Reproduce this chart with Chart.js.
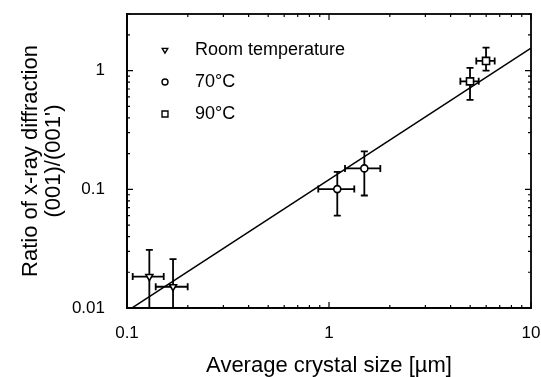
<!DOCTYPE html>
<html>
<head>
<meta charset="utf-8">
<script src="https://cdn.jsdelivr.net/npm/chart.js@4/dist/chart.umd.min.js"></script>
<style>
html,body{margin:0;padding:0;background:#fff;}
#wrap{width:541px;height:377px;}
</style>
</head>
<body>
<div id="wrap"><canvas id="c" width="541" height="377"></canvas></div>
<script>
// ---- data ----
const seriesLabels = ['Room temperature', '70°C', '90°C'];

const roomSize   = [0.129, 0.169];
const roomRatio  = [0.0184, 0.0151];
const roomXLow   = [0.1067, 0.1387];
const roomXHigh  = [0.152, 0.1997];
const roomYLow   = [0.008, 0.008];
const roomYHigh  = [0.0309, 0.0258];

const t70Size    = [1.099, 1.496];
const t70Ratio   = [0.1004, 0.150];
const t70XLow    = [0.885, 1.20];
const t70XHigh   = [1.334, 1.795];
const t70YLow    = [0.0601, 0.0887];
const t70YHigh   = [0.1405, 0.2085];

const t90Size    = [4.99, 5.99];
const t90Ratio   = [0.812, 1.207];
const t90XLow    = [4.47, 5.36];
const t90XHigh   = [5.51, 6.61];
const t90YLow    = [0.566, 1.0];
const t90YHigh   = [1.054, 1.564];

const fitX = [0.1, 10];
const fitY = [0.0094, 1.55];

const xTicks = [0.1, 1, 10];
const yTicks = [0.01, 0.1, 1];
const xTitle = 'Average crystal size [µm]';
const yTitle = ['Ratio of x-ray diffraction', "(001)/(001')"];

const FONT = "'Liberation Sans', Arial, Helvetica, sans-serif";

function pts(xs, ys) { return xs.map((x, i) => ({x: x, y: ys[i]})); }

const datasets = [
  {label: seriesLabels[0], data: pts(roomSize, roomRatio), pointStyle: 'triangle', rotation: 180, pointRadius: 4,
   err: {xl: roomXLow, xh: roomXHigh, yl: roomYLow, yh: roomYHigh}, legendRadius: 3.2},
  {label: seriesLabels[1], data: pts(t70Size, t70Ratio), pointStyle: 'circle', pointRadius: 3.5,
   err: {xl: t70XLow, xh: t70XHigh, yl: t70YLow, yh: t70YHigh}, legendRadius: 3},
  {label: seriesLabels[2], data: pts(t90Size, t90Ratio), pointStyle: 'rect', pointRadius: 5,
   err: {xl: t90XLow, xh: t90XHigh, yl: t90YLow, yh: t90YHigh}, legendRadius: 4.2},
].map(d => Object.assign({
  type: 'scatter', showLine: false, backgroundColor: '#fff', borderColor: '#000',
  pointBorderWidth: 1.6, pointBackgroundColor: '#fff', pointBorderColor: '#000', pointHoverRadius: 4
}, d));

datasets.push({
  type: 'line', label: 'fit', data: pts(fitX, fitY), borderColor: '#000', borderWidth: 1.5,
  pointRadius: 0, fill: false, tension: 0, isFit: true
});

const errorBars = {
  id: 'errorBars',
  beforeDatasetsDraw(chart) {
    const {ctx, chartArea: a, scales: {x, y}} = chart;
    ctx.save();
    ctx.beginPath();
    ctx.rect(a.left, a.top, a.right - a.left, a.bottom - a.top);
    ctx.clip();
    ctx.strokeStyle = '#000';
    ctx.lineWidth = 1.8;
    const cap = 3.5;
    chart.data.datasets.forEach(ds => {
      if (!ds.err) return;
      ds.data.forEach((p, i) => {
        const px = x.getPixelForValue(p.x), py = y.getPixelForValue(p.y);
        const xl = x.getPixelForValue(ds.err.xl[i]), xh = x.getPixelForValue(ds.err.xh[i]);
        const yl = y.getPixelForValue(ds.err.yl[i]), yh = y.getPixelForValue(ds.err.yh[i]);
        ctx.beginPath();
        ctx.moveTo(xl, py); ctx.lineTo(xh, py);
        ctx.moveTo(xl, py - cap); ctx.lineTo(xl, py + cap);
        ctx.moveTo(xh, py - cap); ctx.lineTo(xh, py + cap);
        ctx.moveTo(px, yl); ctx.lineTo(px, yh);
        ctx.moveTo(px - cap, yl); ctx.lineTo(px + cap, yl);
        ctx.moveTo(px - cap, yh); ctx.lineTo(px + cap, yh);
        ctx.stroke();
      });
    });
    ctx.restore();
  }
};

const frameAndTicks = {
  id: 'frameAndTicks',
  afterDraw(chart) {
    const {ctx, chartArea: a, scales: {x, y}} = chart;
    ctx.save();
    ctx.strokeStyle = '#000';
    ctx.lineWidth = 1.2;
    const minor = [2, 3, 4, 5, 6, 7, 8, 9];
    ctx.beginPath();
    [0.1, 1].forEach(dec => minor.forEach(m => {
      const px = x.getPixelForValue(dec * m);
      ctx.moveTo(px, a.bottom); ctx.lineTo(px, a.bottom - 3);
      ctx.moveTo(px, a.top); ctx.lineTo(px, a.top + 3);
    }));
    xTicks.forEach(v => {
      const px = x.getPixelForValue(v);
      ctx.moveTo(px, a.bottom); ctx.lineTo(px, a.bottom - 6);
      ctx.moveTo(px, a.top); ctx.lineTo(px, a.top + 6);
    });
    [0.01, 0.1, 1].forEach(dec => minor.forEach(m => {
      const v = dec * m;
      if (v > y.max) return;
      const py = y.getPixelForValue(v);
      ctx.moveTo(a.left, py); ctx.lineTo(a.left + 3, py);
      ctx.moveTo(a.right, py); ctx.lineTo(a.right - 3, py);
    }));
    yTicks.forEach(v => {
      const py = y.getPixelForValue(v);
      ctx.moveTo(a.left, py); ctx.lineTo(a.left + 6, py);
      ctx.moveTo(a.right, py); ctx.lineTo(a.right - 6, py);
    });
    ctx.stroke();
    ctx.lineWidth = 1.8;
    ctx.strokeRect(a.left, a.top, a.right - a.left, a.bottom - a.top);

    // legend inside plot
    const lx = 165, ly0 = 50, dy = 32, tx = 195;
    ctx.font = '18px ' + FONT;
    ctx.fillStyle = '#000';
    ctx.textBaseline = 'middle';
    ctx.textAlign = 'left';
    chart.data.datasets.filter(d => !d.isFit).forEach((d, i) => {
      const ly = ly0 + i * dy;
      ctx.lineWidth = 1.4;
      ctx.fillStyle = '#fff';
      Chart.helpers.drawPoint(ctx, {pointStyle: d.pointStyle, rotation: d.rotation || 0,
        radius: d.legendRadius, borderWidth: 1.4}, lx, ly);
      ctx.fillStyle = '#000';
      ctx.fillText(d.label, tx, ly);
    });
    ctx.restore();
  }
};

function noPad(s) { s.paddingTop = 0; s.paddingBottom = 0; s.paddingLeft = 0; s.paddingRight = 0; }

new Chart(document.getElementById('c'), {
  data: {datasets: datasets},
  plugins: [errorBars, frameAndTicks],
  options: {
    responsive: false,
    animation: false,
    events: [],
    layout: {padding: {left: 0, right: 10, top: 14, bottom: 0}},
    plugins: {legend: {display: false}, tooltip: {enabled: false}},
    scales: {
      x: {
        type: 'logarithmic', min: 0.1, max: 10, position: 'bottom',
        afterBuildTicks: s => { s.ticks = xTicks.map(v => ({value: v})); },
        afterFit: s => { s.height = 69; noPad(s); },
        grid: {display: false, drawTicks: false},
        border: {display: true, color: '#000', width: 1.8},
        ticks: {color: '#000', font: {family: FONT, size: 17}, padding: 15, maxRotation: 0,
                callback: v => String(v)},
        title: {display: true, text: xTitle, color: '#000', font: {family: FONT, size: 22, lineHeight: 1.05},
                padding: {top: 0, bottom: 0}}
      },
      y: {
        type: 'logarithmic', min: 0.01, max: 3, position: 'left',
        afterBuildTicks: s => { s.ticks = yTicks.map(v => ({value: v})); },
        afterFit: s => { s.width = 127; noPad(s); },
        grid: {display: false, drawTicks: false},
        border: {display: true, color: '#000', width: 1.8},
        ticks: {color: '#000', font: {family: FONT, size: 17}, padding: 22,
                callback: v => String(v)},
        title: {display: true, text: yTitle, color: '#000', font: {family: FONT, size: 22, lineHeight: 1.05},
                padding: {top: 19, bottom: 0}}
      }
    }
  }
});
</script>
</body>
</html>
